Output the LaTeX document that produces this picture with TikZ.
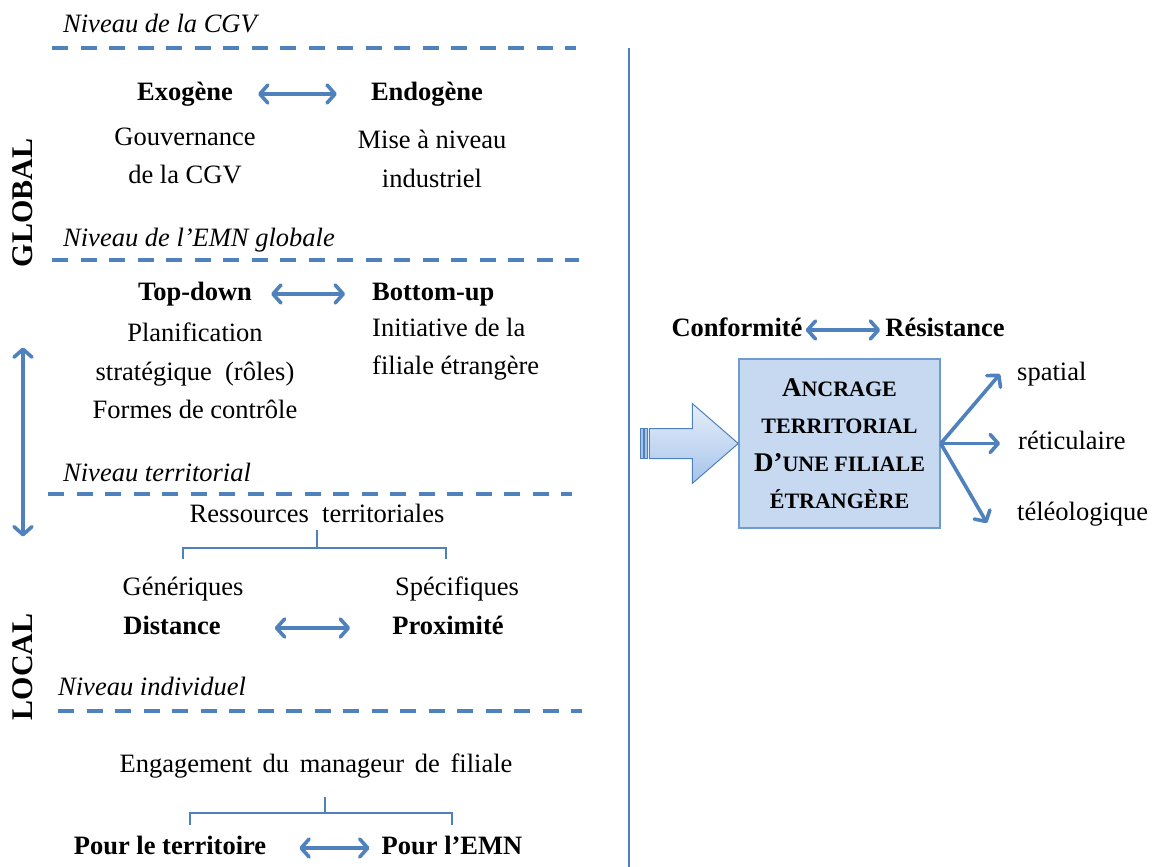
\documentclass[tikz,border=0pt]{standalone}
\usepackage{fontspec}
\setmainfont{Liberation Serif}
\usetikzlibrary{arrows.meta}
\definecolor{lineblue}{HTML}{4F81BD}
\definecolor{boxfill}{HTML}{C6D9F1}
\definecolor{boxedge}{HTML}{6F9BD3}
\definecolor{arrowtop}{HTML}{E6EFFA}
\definecolor{arrowbot}{HTML}{A6C3EA}
\newcommand{\petit}[1]{{\fontsize{22}{37.5}\selectfont #1}}
\tikzset{
	txt/.style={font=\fontsize{26.5}{38.5}\selectfont, inner sep=2pt, text height=18pt, text depth=6pt},
	bftxt/.style={txt, font=\fontsize{26.5}{38.5}\selectfont\bfseries},
	lvl/.style={txt, font=\fontsize{26.5}{38.5}\selectfont\itshape, anchor=west},
	para/.style={font=\fontsize{26.5}{38.5}\selectfont, inner sep=2pt, align=center},
	sidetxt/.style={font=\fontsize{30}{32}\selectfont\bfseries, inner sep=2pt, rotate=90},
	levelline/.style={draw=lineblue, line width=4pt, dash pattern=on 16pt off 12.5pt},
	dbl/.style={draw=lineblue, line width=3.6pt, {Straight Barb[length=8pt,width=18pt,round]}-{Straight Barb[length=8pt,width=18pt,round]}},
	arr/.style={draw=lineblue, line width=3.6pt, -{Straight Barb[length=8pt,width=18pt,round]}},
	brk/.style={draw=lineblue, line width=1.8pt},
}
\begin{document}
\begin{tikzpicture}[x=1pt,y=-1pt]
	\path[use as bounding box, fill=white] (0,0) rectangle (1152,867);
	% levels
	\node[lvl] (lcgv) at (61,27) {Niveau de la CGV};
	\node[lvl] (lemn) at (61,240) {Niveau de l’EMN globale};
	\node[lvl] (lter) at (61,475) {Niveau territorial};
	\node[lvl] (lind) at (56,689) {Niveau individuel};
	\draw[levelline] (52,48) -- (576,48);
	\draw[levelline] (52,260) -- (579,260);
	\draw[levelline] (48,494) -- (572,494);
	\draw[levelline] (58,711) -- (582,711);
	\draw[draw=lineblue, line width=1.6pt] (629,48) -- (629,867);

	% global / local
	\node[sidetxt] (glob) at (23,203) {GLOBAL};
	\node[sidetxt] (loc) at (23,667) {LOCAL};
	\draw[dbl, shorten <=78pt, shorten >=75pt] (glob) -- (loc);

	% CGV
	\node[bftxt] (exo) at (185,94) {Exogène};
	\node[bftxt] (endo) at (427,94) {Endogène}
		edge[dbl, shorten <=32pt, shorten >=23pt] (exo);
	\node[para] (gouv) at (185,156) {Gouvernance\\de la CGV};
	\node[para] (mise) at (432,159) {Mise à niveau\\industriel};

	% EMN globale
	\node[bftxt] (td) at (195,294) {Top-down};
	\node[bftxt, anchor=west] (bu) at (370,294) {Bottom-up}
		edge[dbl, shorten <=25pt, shorten >=17pt] (td);
	\node[para] (plan) at (195,371) {Planification\\stratégique\ \ (rôles)\\Formes de contrôle};
	\node[para, align=left, anchor=west] (init) at (370,349) {Initiative de la\\filiale étrangère};

	% territorial
	\node[txt] (res) at (317,516) {Ressources\ \ territoriales};
	\node[txt] (gen) at (183,589) {Génériques};
	\node[txt] (spe) at (457,589) {Spécifiques};
	\draw[brk, shorten >=16pt] (res.south) -- ++(0,18) -| (gen.north);
	\draw[brk, shorten >=16pt] (res.south) -- ++(0,18) -| ([xshift=-11pt]spe.north);
	\node[bftxt] (dist) at (172,628) {Distance};
	\node[bftxt] (prox) at (448,628) {Proximité}
		edge[dbl, shorten <=40pt, shorten >=52pt] (dist);

	% individuel
	\node[txt] (eng) at (316,766) {Engagement\hspace{4pt} du\hspace{4pt} manageur\hspace{4pt} de\hspace{4pt} filiale};
	\node[bftxt] (terr) at (170,848) {Pour le territoire};
	\node[bftxt] (emn) at (452,848) {Pour l’EMN}
		edge[dbl, shorten <=10pt, shorten >=31pt] (terr);
	\draw[brk, shorten <=17pt, shorten >=9pt] ([xshift=9pt]eng.south) -- ++(0,33) -| ([xshift=20pt]terr.north);
	\draw[brk, shorten <=17pt, shorten >=9pt] ([xshift=9pt]eng.south) -- ++(0,33) -| (emn.north);

	% ancrage
	\node[bftxt] (conf) at (737,330) {Conformité};
	\node[bftxt] (resi) at (945,330) {Résistance}
		edge[dbl, shorten <=3pt, shorten >=1pt] (conf);
	\node[draw=boxedge, line width=1.5pt, fill=boxfill, minimum width=201pt, minimum height=169pt,
		align=center, inner sep=0pt, font=\fontsize{27}{37.5}\selectfont\bfseries] (box) at (839.5,443.5)
		{A\petit{NCRAGE}\\\petit{TERRITORIAL}\\D’\petit{UNE FILIALE}\\\petit{ÉTRANGÈRE}};
	\draw[draw=lineblue, line width=1pt, top color=arrowtop, bottom color=arrowbot]
		(box.west) -- ++(-46,-40) -- ++(0,25) -- ++(-43,0) -- ++(0,30) -- ++(43,0) -- ++(0,25) -- cycle;
	\draw[draw=lineblue, line width=0.8pt, fill=arrowbot] (box.west) ++(-98,-15) rectangle ++(3,30);
	\draw[draw=lineblue, line width=0.8pt, fill=arrowbot] (box.west) ++(-93.5,-15) rectangle ++(2.5,30);

	\node[txt, anchor=west] (spa) at (1015,374) {spatial};
	\node[txt, anchor=west] (ret) at (1016,443.5) {réticulaire};
	\node[txt, anchor=west] (tel) at (1015,514) {téléologique};
	\draw[arr] (box.east) -- ([xshift=-15pt]spa.west);
	\draw[arr] (box.east) -- ([xshift=-16pt]ret.west);
	\draw[arr] (box.east) -- ([xshift=-28pt,yshift=-9pt]tel.west);
\end{tikzpicture}
\end{document}
